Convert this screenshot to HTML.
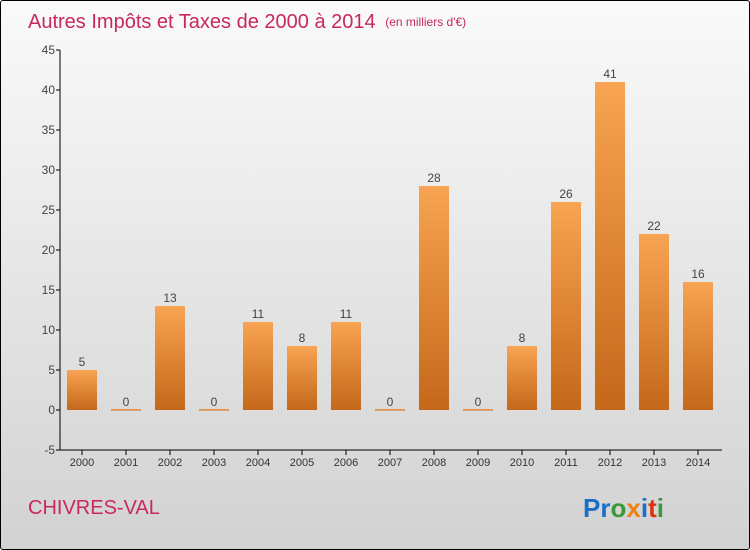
<!DOCTYPE html>
<html><head><meta charset="utf-8"><style>
body{margin:0;width:750px;height:550px;overflow:hidden;font-family:"Liberation Sans",sans-serif}
#c{position:absolute;left:0;top:0;width:748px;height:548px;border:1px solid #000;border-radius:3px;background:linear-gradient(#fafafa,#d2d2d2)}
</style></head><body>
<div id="c">
<svg width="750" height="550" style="position:absolute;left:-1px;top:-1px">
<defs><linearGradient id="bg" x1="0" y1="0" x2="0" y2="1"><stop offset="0" stop-color="#f8a452"/><stop offset="1" stop-color="#c4681a"/></linearGradient></defs>
<text x="28" y="28" font-size="20" fill="#c8285a">Autres Impôts et Taxes de 2000 à 2014 <tspan font-size="12" dx="4" dy="-2">(en milliers d'€)</tspan></text>
<g id="axes"></g><g id="bars"></g>
<text x="28" y="514" font-size="20" fill="#c8285a">CHIVRES-VAL</text>
<text x="583" y="517" font-size="26" font-weight="bold"><tspan fill="#1a6fc8">Pr</tspan><tspan fill="#3a9a3a">o</tspan><tspan fill="#f08010">x</tspan><tspan fill="#1a6fc8">i</tspan><tspan fill="#e03010">t</tspan><tspan fill="#3a9a3a">i</tspan></text>
</svg></div>
<script>
const years=["2000","2001","2002","2003","2004","2005","2006","2007","2008","2009","2010","2011","2012","2013","2014"];
const values=[5,0,13,0,11,8,11,0,28,0,8,26,41,22,16];
const yTicks=[-5,0,5,10,15,20,25,30,35,40,45];
const NS="http://www.w3.org/2000/svg";
const y=v=>410-v*8, x=i=>82+i*44;
function mk(t,a,p){const e=document.createElementNS(NS,t);for(const k in a)e.setAttribute(k,a[k]);p.appendChild(e);return e;}
const ax=document.getElementById('axes'), bg=document.getElementById('bars');
let l=mk('line',{x1:60,y1:50,x2:60,y2:450,stroke:'#000'},ax);


l=mk('line',{x1:60,y1:450,x2:722,y2:450,stroke:'#000'},ax);


yTicks.forEach(v=>{mk('line',{x1:56,y1:y(v),x2:60,y2:y(v),stroke:'#000'},ax);
const t=mk('text',{x:55,y:y(v)+4,'font-size':12,fill:'#444','text-anchor':'end'},ax);t.textContent=v;

});
years.forEach((yr,i)=>{mk('line',{x1:x(i),y1:450,x2:x(i),y2:455,stroke:'#000'},ax);
const t=mk('text',{x:x(i),y:466,'font-size':11,fill:'#333','text-anchor':'middle'},ax);t.textContent=yr;


const v=values[i];
const r=mk('rect',{x:x(i)-15,y:v>0?y(v):y(0)-1,width:30,height:v>0?v*8:1.5,fill:'url(#bg)'},bg);


const lb=mk('text',{x:x(i),y:y(v)-4,'font-size':12,fill:'#444','text-anchor':'middle'},bg);lb.textContent=v;

});
</script></body></html>
